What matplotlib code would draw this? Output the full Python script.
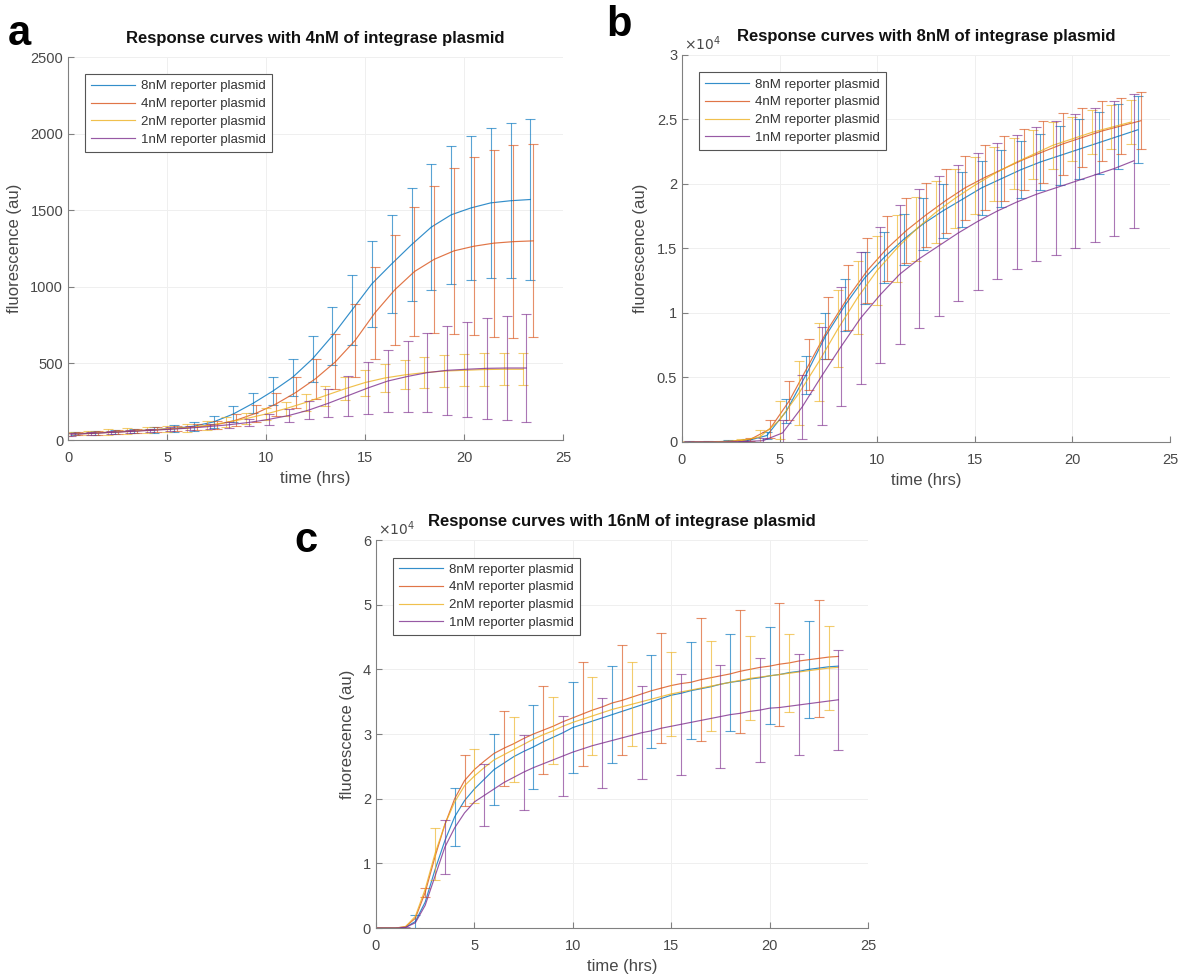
import numpy as np
import matplotlib
matplotlib.use("Agg")
import matplotlib.pyplot as plt
from matplotlib.ticker import FuncFormatter

plt.rcParams["font.family"] = ["Liberation Sans", "DejaVu Sans"]

labels = ["8nM reporter plasmid", "4nM reporter plasmid",
          "2nM reporter plasmid", "1nM reporter plasmid"]
colors = ["#0072BD", "#D95319", "#EDB120", "#7E2F8E"]

# panels a and b: hourly readings, each series read a little shifted in time
hours = np.arange(24)
shift_ab = [0.35, 0.5, 0.0, 0.15]

# a) 4nM integrase, fluorescence (au)
a_mean = [
    [40, 46, 52, 60, 67, 76, 90, 118, 170, 240, 320, 410, 530, 680, 850, 1020,
     1150, 1275, 1390, 1470, 1515, 1548, 1562, 1570],
    [40, 46, 52, 60, 67, 75, 85, 100, 130, 175, 235, 310, 400, 510, 650, 830,
     980, 1100, 1180, 1235, 1265, 1285, 1295, 1300],
    [40, 45, 52, 58, 65, 72, 80, 95, 115, 140, 170, 205, 245, 290, 335, 375,
     405, 425, 440, 450, 455, 460, 462, 462],
    [38, 43, 50, 56, 63, 70, 78, 88, 100, 115, 135, 160, 195, 240, 290, 340,
     385, 415, 440, 455, 462, 468, 470, 470],
]
a_err = [
    [10, 10, 12, 15, 18, 22, 28, 40, 50, 65, 90, 120, 150, 190, 230, 280,
     320, 370, 410, 450, 470, 490, 505, 525],
    [10, 10, 12, 14, 16, 18, 20, 25, 40, 55, 75, 100, 130, 180, 240, 300,
     360, 420, 480, 540, 580, 610, 630, 630],
    [15, 15, 18, 20, 20, 20, 25, 28, 32, 35, 40, 45, 55, 65, 75, 85,
     90, 95, 100, 105, 105, 105, 105, 105],
    [10, 10, 10, 10, 12, 12, 14, 15, 20, 25, 35, 45, 60, 90, 130, 170,
     200, 230, 260, 290, 310, 330, 340, 350],
]

# b) 8nM integrase, fluorescence (x10^4 au)
b_mean = [
    [0, 0, 0.005, 0.01, 0.05, 0.24, 0.52, 0.82, 1.06, 1.27, 1.43, 1.57,
     1.69, 1.79, 1.88, 1.97, 2.04, 2.11, 2.17, 2.22, 2.27, 2.32, 2.37, 2.42],
    [0, 0, 0.005, 0.02, 0.10, 0.32, 0.60, 0.88, 1.12, 1.33, 1.50, 1.64,
     1.76, 1.87, 1.97, 2.05, 2.12, 2.19, 2.25, 2.31, 2.36, 2.41, 2.45, 2.49],
    [0, 0, 0.003, 0.01, 0.04, 0.17, 0.38, 0.62, 0.88, 1.12, 1.33, 1.50,
     1.65, 1.78, 1.89, 1.99, 2.08, 2.16, 2.23, 2.30, 2.35, 2.40, 2.44, 2.48],
    [0, 0, 0, 0.003, 0.01, 0.07, 0.27, 0.51, 0.74, 0.96, 1.14, 1.30,
     1.42, 1.52, 1.62, 1.71, 1.79, 1.86, 1.92, 1.97, 2.02, 2.07, 2.12, 2.18],
]
b_err = [
    [0.005, 0.005, 0.01, 0.01, 0.03, 0.09, 0.15, 0.18, 0.20, 0.20, 0.20, 0.20,
     0.20, 0.21, 0.21, 0.21, 0.22, 0.22, 0.22, 0.23, 0.23, 0.24, 0.25, 0.26],
    [0.003, 0.003, 0.005, 0.01, 0.07, 0.15, 0.20, 0.24, 0.25, 0.25, 0.25, 0.25,
     0.25, 0.25, 0.25, 0.25, 0.25, 0.24, 0.24, 0.24, 0.23, 0.23, 0.22, 0.22],
    [0.003, 0.003, 0.005, 0.01, 0.05, 0.15, 0.25, 0.30, 0.30, 0.28, 0.27, 0.26,
     0.25, 0.24, 0.23, 0.22, 0.21, 0.20, 0.19, 0.18, 0.17, 0.17, 0.17, 0.17],
    [0.002, 0.002, 0.003, 0.005, 0.02, 0.10, 0.25, 0.38, 0.46, 0.51, 0.53, 0.54,
     0.54, 0.54, 0.53, 0.53, 0.53, 0.52, 0.52, 0.52, 0.52, 0.52, 0.52, 0.52],
]

# c) 16nM integrase, half-hourly readings (x10^4 au), bars every 2 h
half_hours = np.arange(48) * 0.5
c_mean = [
    [0, 0, 0, 0.01, 0.10, 0.40, 0.90, 1.35, 1.72, 1.97, 2.15, 2.30, 2.45, 2.55,
     2.65, 2.73, 2.80, 2.88, 2.95, 3.02, 3.10, 3.15, 3.20, 3.25, 3.30, 3.35,
     3.40, 3.45, 3.50, 3.55, 3.60, 3.63, 3.67, 3.70, 3.73, 3.77, 3.80, 3.82,
     3.85, 3.87, 3.90, 3.92, 3.95, 3.97, 4.00, 4.02, 4.04, 4.05],
    [0, 0, 0, 0.02, 0.15, 0.55, 1.10, 1.60, 2.00, 2.28, 2.45, 2.58, 2.70, 2.78,
     2.85, 2.93, 3.00, 3.06, 3.12, 3.19, 3.25, 3.31, 3.37, 3.42, 3.48, 3.52,
     3.57, 3.62, 3.67, 3.71, 3.75, 3.78, 3.80, 3.84, 3.87, 3.90, 3.93, 3.97,
     4.00, 4.03, 4.05, 4.08, 4.10, 4.13, 4.15, 4.17, 4.19, 4.20],
    [0, 0, 0, 0.02, 0.18, 0.60, 1.15, 1.60, 1.95, 2.20, 2.35, 2.48, 2.60, 2.68,
     2.76, 2.84, 2.92, 2.99, 3.05, 3.12, 3.18, 3.23, 3.28, 3.33, 3.38, 3.42,
     3.46, 3.50, 3.54, 3.58, 3.62, 3.65, 3.68, 3.71, 3.74, 3.77, 3.80, 3.83,
     3.86, 3.88, 3.90, 3.92, 3.94, 3.96, 3.98, 4.00, 4.02, 4.03],
    [0, 0, 0, 0.01, 0.08, 0.35, 0.80, 1.25, 1.55, 1.78, 1.95, 2.05, 2.15, 2.25,
     2.33, 2.41, 2.48, 2.54, 2.60, 2.66, 2.72, 2.77, 2.82, 2.86, 2.90, 2.94,
     2.98, 3.02, 3.05, 3.09, 3.12, 3.15, 3.18, 3.21, 3.24, 3.27, 3.30, 3.32,
     3.35, 3.37, 3.40, 3.41, 3.43, 3.45, 3.47, 3.49, 3.51, 3.53],
]
c_err = [
    [0.003, 0.10, 0.45, 0.55, 0.65, 0.70, 0.75, 0.72, 0.75, 0.75, 0.75, 0.75],
    [0.002, 0.07, 0.40, 0.58, 0.68, 0.80, 0.85, 0.85, 0.95, 0.95, 0.95, 0.90],
    [0.002, 0.40, 0.42, 0.50, 0.52, 0.60, 0.65, 0.65, 0.70, 0.65, 0.60, 0.65],
    [0.010, 0.42, 0.48, 0.58, 0.62, 0.70, 0.72, 0.78, 0.80, 0.80, 0.78, 0.77],
]

titles = ["Response curves with 4nM of integrase plasmid",
          "Response curves with 8nM of integrase plasmid",
          "Response curves with 16nM of integrase plasmid"]

fig = plt.figure(figsize=(11.83, 9.75), dpi=100)
ax_a = fig.add_axes([0.0575, 0.5487, 0.4184, 0.3928])
ax_b = fig.add_axes([0.5765, 0.5467, 0.4125, 0.3969])
ax_c = fig.add_axes([0.3178, 0.0482, 0.4159, 0.3979])

ink = "#484848"


def style(ax, ymax, ystep, title):
    ax.set_xlim(0, 25)
    ax.set_ylim(0, ymax)
    ax.set_xticks(np.arange(0, 26, 5))
    ax.set_yticks(np.arange(0, ymax + ystep / 2, ystep))
    ax.yaxis.set_major_formatter(FuncFormatter(lambda v, p: "%g" % v))
    ax.grid(True, color="#efefef", lw=0.7)
    ax.set_axisbelow(True)
    for s in ["top", "right"]:
        ax.spines[s].set_visible(False)
    for s in ["left", "bottom"]:
        ax.spines[s].set_color("#808080")
        ax.spines[s].set_linewidth(0.8)
    ax.tick_params(direction="in", length=4, width=0.8, colors="#808080",
                   labelcolor=ink, labelsize=10.5)
    ax.tick_params(axis="x", pad=8)
    ax.set_xlabel("time (hrs)", fontsize=12, color=ink, labelpad=4)
    ax.set_ylabel("fluorescence (au)", fontsize=12, color=ink, labelpad=6)
    ax.set_title(title, fontsize=12, fontweight="bold", color="#111111", pad=10)
    leg = ax.legend(loc="upper left", bbox_to_anchor=(0.035, 0.955),
                    fontsize=9.5, handlelength=3.3, handletextpad=0.5,
                    labelspacing=0.42, borderpad=0.45, fancybox=False,
                    framealpha=1, edgecolor="#555555", borderaxespad=0)
    leg.get_frame().set_linewidth(0.8)
    for txt in leg.get_texts():
        txt.set_color("#333333")


# panel a and b
for ax, means, errs in [(ax_a, a_mean, a_err), (ax_b, b_mean, b_err)]:
    for i in range(4):
        t = hours + shift_ab[i]
        ax.errorbar(t, means[i], yerr=errs[i], fmt="none", ecolor=colors[i],
                    elinewidth=0.8, capsize=3.5, capthick=0.8, alpha=0.65)
        ax.plot(t, means[i], color=colors[i], lw=0.85, alpha=0.8, label=labels[i])

# panel c
for i in range(4):
    ax_c.errorbar(half_hours[i::4], np.array(c_mean[i])[i::4], yerr=c_err[i],
                  fmt="none", ecolor=colors[i], elinewidth=0.8, capsize=3.5,
                  capthick=0.8, alpha=0.65)
    ax_c.plot(half_hours, c_mean[i], color=colors[i], lw=0.85, alpha=0.8,
              label=labels[i])

style(ax_a, 2500, 500, titles[0])
style(ax_b, 3, 0.5, titles[1])
style(ax_c, 6, 1, titles[2])

# x10^4 multiplier, MATLAB style
for ax in [ax_b, ax_c]:
    ax.text(0.005, 1.005, r"$\times10^{4}$", transform=ax.transAxes,
            fontsize=10, color=ink, ha="left", va="bottom")

# panel letters
fig.text(8 / 1183, 1 - 45 / 975, "a", fontsize=30, fontweight="bold")
fig.text(606 / 1183, 1 - 36 / 975, "b", fontsize=30, fontweight="bold")
fig.text(294 / 1183, 1 - 552 / 975, "c", fontsize=30, fontweight="bold")

fig.savefig("out.png", dpi=100)
